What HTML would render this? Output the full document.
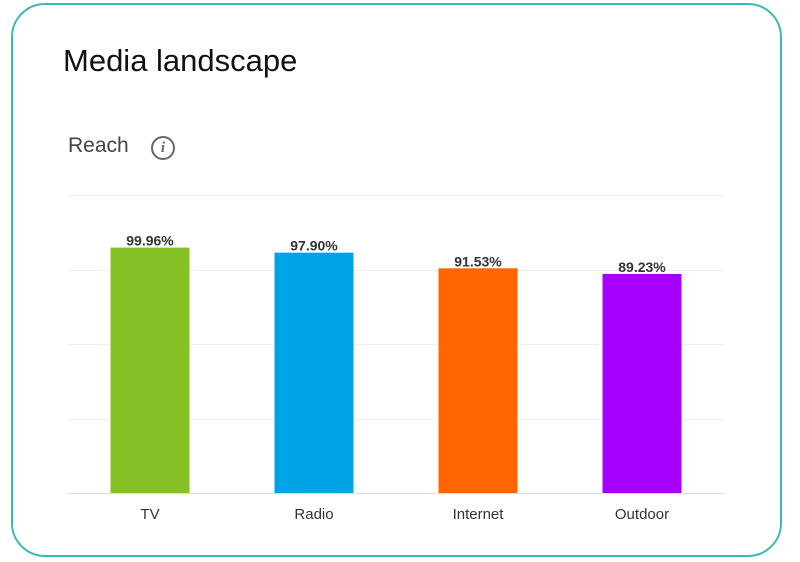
<!DOCTYPE html>
<html><head><meta charset="utf-8"><style>
body{margin:0;width:800px;height:562px;background:#fff;font-family:"Liberation Sans",sans-serif;overflow:hidden}
.card{position:absolute;left:11px;top:3px;width:771px;height:554px;border:2px solid #3bb8b8;border-radius:34px;box-sizing:border-box}
h1{position:absolute;left:63px;top:43px;margin:0;font-weight:normal;font-size:31px;color:#111}
.sub{position:absolute;left:68px;top:134px;font-size:21px;color:#444}
.info{position:absolute;left:151px;top:136px;width:20px;height:20px;border:2px solid #666;border-radius:50%;color:#666;font:italic bold 15px "Liberation Serif",serif;text-align:center;line-height:20px}
</style></head><body>
<div class="card"></div>
<h1>Media landscape</h1>
<div class="sub">Reach</div>
<div class="info">i</div>
<svg id="c" width="800" height="562" style="position:absolute;left:0;top:0"></svg>
<script>
const categories=["TV","Radio","Internet","Outdoor"];
const values=[99.96,97.90,91.53,89.23];
const labels=["99.96%","97.90%","91.53%","89.23%"];
const colors=["#86c226","#00a3e6","#ff6600","#a600ff"];
const ticks=[0,30,60,90,120];
const NS="http://www.w3.org/2000/svg",svg=document.getElementById('c');
const x0=68,x1=724,y0=493,maxV=121.5,ppu=2.455;
const y=v=>y0-v*ppu;
const band=(x1-x0)/categories.length;
function mk(t,a){const e=document.createElementNS(NS,t);for(const k in a)e.setAttribute(k,a[k]);svg.appendChild(e);return e;}
ticks.forEach(t=>{const gy=Math.round(y0-t*(298/120))+0.5;const l=mk('line',{x1:x0,x2:x1,y1:gy,y2:gy,stroke:t===0?'#d8dde2':'#edf0f2','stroke-width':1});

});
categories.forEach((c,i)=>{const cx=x0+band*(i+0.5),w=79;
const r=mk('rect',{x:cx-w/2,y:y(values[i]),width:w,height:y0-y(values[i]),fill:colors[i]});


const t=mk('text',{x:cx,y:y(values[i])-2,'text-anchor':'middle','font-size':14,'font-weight':'bold',fill:'#333'});t.textContent=labels[i];


const a=mk('text',{x:cx,y:519,'text-anchor':'middle','font-size':15,fill:'#333'});a.textContent=c;

});
</script>
</body></html>
